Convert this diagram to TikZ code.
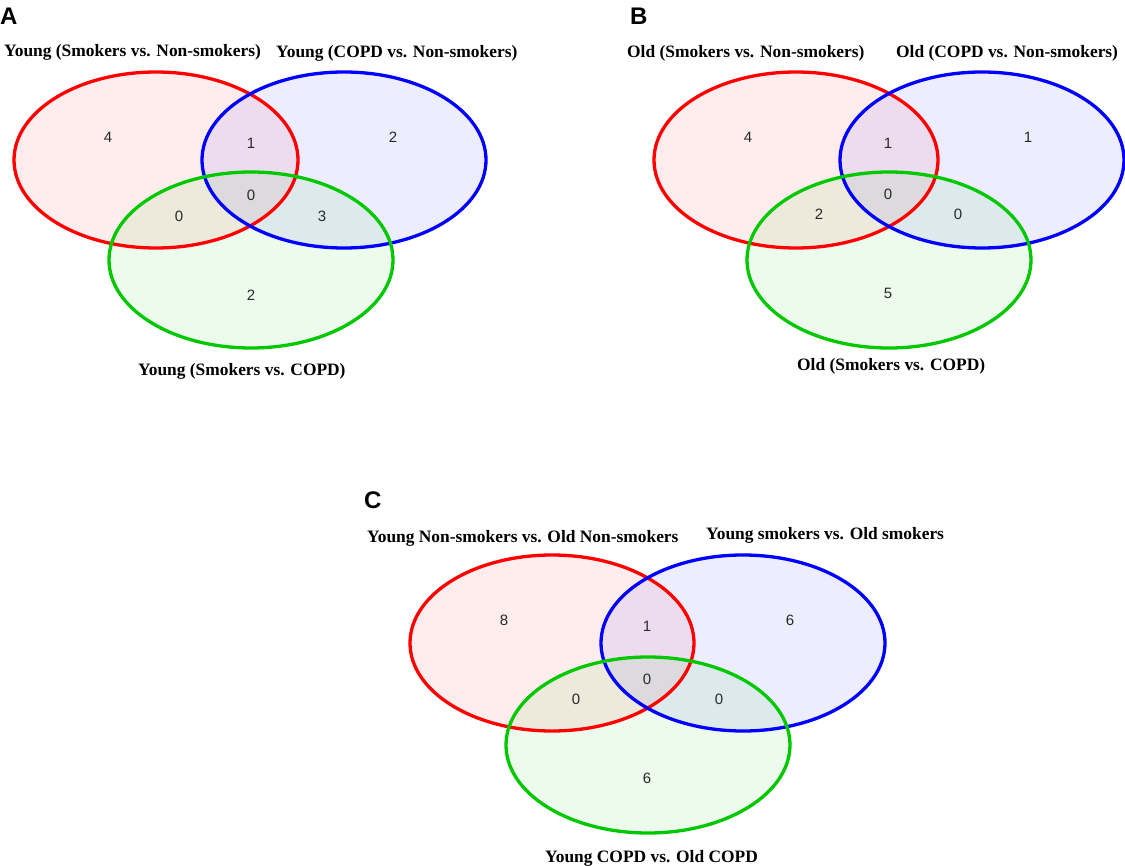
\documentclass[tikz,border=0pt]{standalone}
\usepackage{fontspec}
\setmainfont{Liberation Serif}
\newfontfamily\sansf{Liberation Sans}
\definecolor{vred}{RGB}{255,0,0}
\definecolor{vblue}{RGB}{0,0,255}
\definecolor{vgreen}{RGB}{0,200,0}
\definecolor{numcol}{RGB}{40,40,40}
\tikzset{
  vfill/.style={fill opacity=0.07},
  vline/.style={line width=3.3pt},
  setlabel/.style={font=\fontsize{17.4}{20}\selectfont\bfseries, anchor=base west, inner sep=0pt},
  count/.style={font=\sansf\fontsize{15}{18}\selectfont, text=numcol, inner sep=0pt},
  panel/.style={font=\sansf\bfseries\fontsize{24}{28}\selectfont, anchor=base west, inner sep=0pt},
  ell/.style={x radius=142pt, y radius=88pt}
}
\begin{document}
\begin{tikzpicture}[x=1pt,y=-1pt]
\useasboundingbox (0,0) rectangle (1125,866);

% ---------- Panel A ----------
\fill[vred,vfill]   (156,160) ellipse [ell];
\fill[vblue,vfill]  (344,160) ellipse [ell];
\fill[vgreen,vfill] (251,260) ellipse [ell];
\draw[vred,vline]   (156,160) ellipse [ell];
\draw[vblue,vline]  (344,160) ellipse [ell];
\draw[vgreen,vline] (251,260) ellipse [ell];
\node[panel] (pA) at (0,25) {A};
\node[setlabel] (a1) at (4,57) {Young (Smokers vs. Non-smokers)};
\node[setlabel] (a2) at (276,58) {Young (COPD vs. Non-smokers)};
\node[setlabel] (a3) at (138,376) {Young (Smokers vs. COPD)};
\node[count] (an1) at (108,137) {4};
\node[count] (an2) at (251,143) {1};
\node[count] (an3) at (393,137) {2};
\node[count] (an4) at (251,195) {0};
\node[count] (an5) at (179,216) {0};
\node[count] (an6) at (322,216) {3};
\node[count] (an7) at (251,295) {2};

% ---------- Panel B ----------
\fill[vred,vfill]   (796,160) ellipse [ell];
\fill[vblue,vfill]  (982,160) ellipse [ell];
\fill[vgreen,vfill] (889,260) ellipse [ell];
\draw[vred,vline]   (796,160) ellipse [ell];
\draw[vblue,vline]  (982,160) ellipse [ell];
\draw[vgreen,vline] (889,260) ellipse [ell];
\node[panel] (pB) at (630,25) {B};
\node[setlabel] (b1) at (627,58) {Old (Smokers vs. Non-smokers)};
\node[setlabel] (b2) at (896,58) {Old (COPD vs. Non-smokers)};
\node[setlabel] (b3) at (797,371) {Old (Smokers vs. COPD)};
\node[count] (bn1) at (748,137) {4};
\node[count] (bn2) at (888,143) {1};
\node[count] (bn3) at (1028,137) {1};
\node[count] (bn4) at (888,194) {0};
\node[count] (bn5) at (819,214) {2};
\node[count] (bn6) at (958,214) {0};
\node[count] (bn7) at (888,293) {5};

% ---------- Panel C ----------
\fill[vred,vfill]   (552,643) ellipse [ell];
\fill[vblue,vfill]  (743,643) ellipse [ell];
\fill[vgreen,vfill] (648,745) ellipse [ell];
\draw[vred,vline]   (552,643) ellipse [ell];
\draw[vblue,vline]  (743,643) ellipse [ell];
\draw[vgreen,vline] (648,745) ellipse [ell];
\node[panel] (pC) at (364,508) {C};
\node[setlabel] (c1) at (367,542) {Young Non-smokers vs. Old Non-smokers};
\node[setlabel] (c2) at (706,539) {Young smokers vs. Old smokers};
\node[setlabel] (c3) at (545,862) {Young COPD vs. Old COPD};
\node[count] (cn1) at (504,620) {8};
\node[count] (cn2) at (647,626) {1};
\node[count] (cn3) at (790,620) {6};
\node[count] (cn4) at (647,679) {0};
\node[count] (cn5) at (576,699) {0};
\node[count] (cn6) at (719,699) {0};
\node[count] (cn7) at (647,778) {6};
\end{tikzpicture}
\end{document}
